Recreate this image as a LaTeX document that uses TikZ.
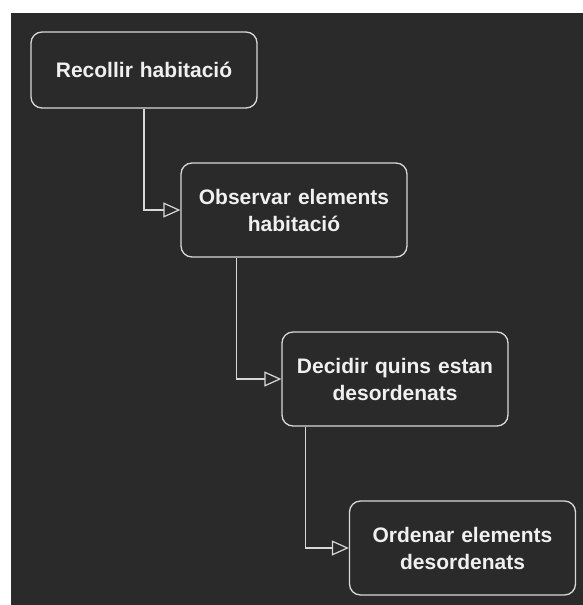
\documentclass[tikz,border=0pt]{standalone}
\usepackage{fontspec}
\setmainfont{Liberation Sans}
\usetikzlibrary{arrows.meta,positioning}
\definecolor{bg}{HTML}{2A2A2A}
\definecolor{edge}{HTML}{D8D8D8}
\definecolor{txt}{HTML}{F0F0F0}
\begin{document}
\begin{tikzpicture}[x=1pt,y=-1pt,
  stepbox/.style={draw=edge, line width=1.3pt, rounded corners=11pt, fill=bg,
    minimum width=226pt, text width=215pt, align=center, inner sep=0pt,
    text=txt, font=\fontsize{21}{27}\selectfont\bfseries},
  flow/.style={draw=edge, line width=1.2pt, -{Triangle[length=17pt,width=15pt,fill=bg,line width=1.2pt]}}]
  \fill[white] (0,0) rectangle (583,605);
  \fill[bg] (11,13) rectangle (583,605);
  \node[stepbox, minimum height=76pt] (b1) at (144,70) {Recollir habitació};
  \node[stepbox, minimum height=94pt] (b2) at (294,210) {Observar elements\\habitació};
  \node[stepbox, minimum height=94pt] (b3) at (395,379) {Decidir quins estan\\desordenats};
  \node[stepbox, minimum height=94pt] (b4) at (462.5,548) {Ordenar elements\\desordenats};
  \draw[flow] (b1.south) |- (b2.west);
  \draw[flow] ([xshift=56pt]b2.south west) |- (b3.west);
  \draw[flow] ([xshift=24pt]b3.south west) |- (b4.west);
\end{tikzpicture}
\end{document}
